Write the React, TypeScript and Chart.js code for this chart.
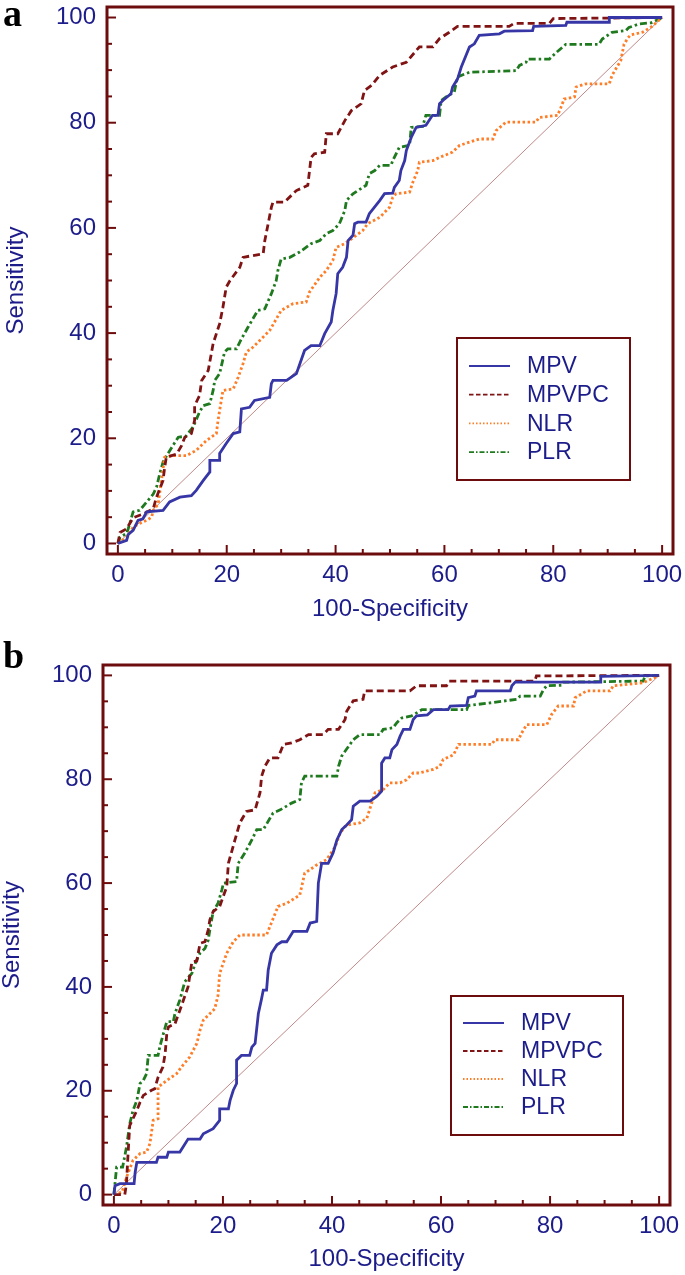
import React, { useEffect, useRef } from "react";
import { Chart, registerables } from "chart.js";

Chart.register(...registerables);

// ---------- shared axis / text ----------
const AXIS_MIN = -2;
const AXIS_MAX = 102;
const TICK_STEP = 5;
const LABEL_EVERY = 20;
const X_TITLE = "100-Specificity";
const Y_TITLE = "Sensitivity";
const SERIES = ["MPV", "MPVPC", "NLR", "PLR"];
const DIAG_X = [0, 100];
const DIAG_Y = [0, 100];

// ---------- panel a ----------
const A_MPV_X = [0, 1.6, 1.9, 2.8, 3.7, 4.6, 5.3, 8.3, 9.5, 11.4, 13.5, 14.4, 15.7, 16.9, 16.9, 18.7, 18.7, 19.9, 21.2, 22.4, 22.7, 24.2, 25.1, 27.9, 28.2, 28.5, 31, 32.8, 34.3, 35.5, 37.1, 38, 39.2, 39.5, 40.1, 40.4, 41.3, 42, 42.3, 43.2, 43.5, 44.1, 45.6, 46.2, 48.1, 49, 50.5, 50.8, 51.7, 52, 52.7, 53, 53.9, 54.8, 56.6, 57.8, 58.8, 59.1, 60, 61.2, 61.5, 62.4, 63.1, 64.6, 65.5, 66.4, 70.1, 71, 76.2, 76.4, 82.3, 82.5, 90.3, 90.3, 100];
const A_MPV_Y = [0, 0.6, 1.7, 2.5, 4.4, 4.7, 6, 6.3, 7.9, 8.8, 9.1, 10.1, 12, 13.6, 15.8, 15.8, 17.1, 19, 20.9, 21.2, 25.6, 25.9, 27.2, 27.8, 30.4, 31, 31, 32.3, 36.7, 37.6, 37.6, 39.9, 42.1, 44.3, 47.5, 51.3, 52.5, 54.4, 57.6, 58.6, 60.8, 61.1, 61.1, 62.7, 65.2, 66.5, 66.6, 67.7, 69, 70.9, 72.8, 74.7, 77.2, 79.1, 79.5, 81.4, 81.4, 83.6, 84.5, 85.5, 86.8, 88.3, 90.6, 94.4, 95, 96.6, 96.9, 97.4, 97.5, 98.3, 98.5, 99.1, 99.1, 100, 100];

const A_MPVPC_X = [0, 0.4, 1.6, 2.8, 4.6, 6.5, 7.1, 8.3, 8.6, 8.9, 10.8, 11.7, 12.3, 13.5, 14.1, 14.1, 15, 15.4, 16.6, 17.5, 18.7, 19.3, 19.9, 20.6, 22.4, 23, 26.7, 27, 28.2, 28.5, 30.6, 32.8, 34.9, 35.5, 36.1, 38, 38.3, 40.4, 41.7, 42.9, 44.7, 45.3, 46.6, 48.1, 50.5, 53, 54.8, 55.4, 57.9, 59.1, 60.9, 62.4, 71.9, 72.8, 79.3, 80, 100];
const A_MPVPC_Y = [0, 2.1, 2.8, 4.9, 5.6, 6.6, 8.8, 12, 14.5, 16.4, 17, 18.6, 20.2, 20.9, 23.4, 26.2, 28.1, 31, 32.9, 38, 41.8, 44.9, 48.7, 50, 52.5, 54.4, 55.1, 57.6, 63.9, 64.9, 64.9, 67.1, 68.1, 73.4, 74.1, 74.4, 77.9, 77.9, 80.4, 82.3, 83.6, 86.1, 87.1, 89, 90.6, 91.5, 93.7, 94.4, 94.4, 96, 97.2, 98.3, 98.3, 98.9, 98.9, 99.8, 100];

const A_NLR_X = [0, 1.6, 2.8, 4, 5.3, 6.2, 6.5, 7.4, 8, 8.6, 10.1, 12.6, 14.4, 16.3, 18.1, 18.4, 19, 19.3, 21.2, 22.1, 23, 23.6, 24.8, 27.9, 30, 32.2, 34.6, 35.2, 37.1, 38.3, 39.5, 40.1, 41.7, 45, 45.9, 48.1, 49.9, 50.5, 51.1, 53.6, 54.2, 55.1, 55.4, 57.9, 59.1, 61.5, 62.8, 64.6, 66.4, 68.9, 69.5, 71.3, 76.8, 77.4, 80.8, 81.4, 82, 83.9, 84.2, 86, 90.3, 90.8, 91.7, 92.4, 93, 93.7, 94.2, 96.4, 98, 100];
const A_NLR_Y = [0, 1.2, 3.1, 3.8, 4.4, 5, 6.3, 7.5, 12, 16.4, 16.7, 16.7, 17.7, 19.6, 20.9, 23.4, 27.2, 29.1, 29.4, 31.6, 34.2, 36.4, 37.3, 40.5, 44.3, 45.6, 45.9, 47.8, 50.6, 51.9, 53.8, 56.3, 57, 59.5, 60.8, 62, 63.9, 65.8, 66.5, 66.8, 68.7, 70.9, 72.5, 72.8, 73.4, 74.4, 75.7, 76.3, 76.9, 76.9, 78.5, 80.1, 80.1, 81, 81.4, 82.9, 84.5, 84.9, 86.8, 87.4, 87.4, 89, 90.6, 91.8, 94.9, 96.1, 96.7, 97.2, 98.2, 100];

const A_PLR_X = [0, 0.4, 1.6, 1.9, 2.8, 4, 5.3, 6.5, 7.1, 7.7, 8.3, 9.2, 10.1, 11.1, 12.5, 13.8, 15, 15.7, 16.9, 17.5, 17.8, 18.7, 19.6, 20.2, 21.8, 22.7, 23.9, 25.7, 27, 28.2, 29.1, 29.4, 30, 31.6, 33.4, 35.5, 37.1, 38.3, 39.5, 40.7, 41.7, 42, 43.2, 45.6, 46.2, 47.2, 48.1, 50.2, 50.5, 51.7, 53.6, 53.9, 56, 56.6, 59.1, 59.4, 60.3, 61.8, 62.4, 64.6, 73.2, 73.8, 75, 75.3, 79.3, 80.5, 82.3, 88.4, 89, 90.8, 93.3, 93.9, 95.8, 98, 100];
const A_PLR_Y = [0, 1.2, 1.9, 2.8, 6, 6.3, 7.9, 9.4, 10.7, 13.3, 15.5, 17.1, 18.6, 20.2, 20.4, 22.1, 25, 26.2, 26.6, 29.1, 31, 32.3, 36.4, 37, 37, 38.9, 41.1, 44.3, 44.6, 47.5, 50, 51.9, 54.1, 54.4, 55.4, 57, 57.6, 58.9, 59.5, 60.8, 63.3, 65.2, 66.5, 68.1, 70.3, 70.9, 71.9, 71.9, 72.8, 75.3, 75.7, 79.1, 79.3, 81.4, 81.4, 84.2, 84.9, 85.8, 88.7, 89.6, 89.9, 90.9, 91.5, 92.1, 92.1, 93.3, 94.9, 94.9, 95.9, 97.2, 97.5, 98.1, 98.8, 99, 100];

// ---------- panel b ----------
const B_MPV_X = [0, 0.2, 1.1, 3.7, 3.9, 4.2, 7.8, 8.1, 9.7, 10, 12.1, 13.6, 15.8, 16.4, 18.2, 19.4, 19.4, 21, 21.3, 21.9, 22.5, 22.5, 23.4, 24.9, 25.3, 25.9, 26.5, 27.1, 27.4, 28, 28.3, 28.9, 29.9, 30.8, 31.7, 32.9, 35.4, 36, 37.2, 37.5, 38.1, 39.3, 40.2, 40.9, 41.8, 42.7, 43.6, 43.9, 45.1, 47, 48.2, 49.1, 49.1, 49.7, 50.6, 51, 51.9, 52.5, 53.1, 54.3, 54.9, 55.5, 57.5, 58.6, 61.3, 61.7, 64.7, 65, 66.2, 66.5, 72.7, 73, 73.6, 89.2, 89.3, 100];
const B_MPV_Y = [0, 1.7, 2.1, 2.1, 4.3, 6.2, 6.2, 7.2, 7.2, 8.2, 8.2, 10.7, 10.7, 11.7, 12.7, 14.3, 16.5, 16.5, 18.1, 20.1, 21.4, 25.9, 26.8, 26.8, 28.4, 29.1, 34.9, 37.8, 39.4, 39.4, 43.2, 46.5, 48.1, 48.7, 48.7, 50.7, 50.7, 52.3, 52.6, 60, 63.8, 63.8, 65.8, 68.3, 70.3, 71.2, 72.2, 74.8, 75.8, 75.8, 76.7, 77.7, 83.1, 84.1, 84.1, 85.7, 86.7, 88.3, 89.6, 89.6, 91.5, 92.2, 92.4, 93.4, 93.4, 94.1, 94.2, 95.7, 96, 97, 97, 98, 98.7, 98.7, 99.8, 100];

const B_MPVPC_X = [0, 2, 2.3, 2.6, 2.9, 4.2, 4.8, 5.4, 6.9, 7.5, 8.1, 9, 9.4, 9.7, 10, 11.2, 12.1, 13.6, 14.3, 15.2, 15.8, 16.7, 17.3, 17.6, 18.2, 19.4, 20.7, 21, 22.2, 23.1, 24.3, 25.9, 26.8, 27.1, 27.7, 28.6, 30.1, 31.1, 32.6, 34.1, 35.7, 38.4, 39.3, 41.2, 42.4, 42.7, 43.9, 45.7, 46, 54.3, 55.5, 61, 61.5, 77.2, 77.5, 100];
const B_MPVPC_Y = [0, 0, 2.1, 7.9, 13.3, 16.2, 17.8, 19.1, 20.1, 20.4, 22.6, 24.6, 27.2, 31, 32.3, 32.9, 35.5, 40, 44.8, 45, 48.4, 48.7, 51, 52.9, 54.5, 55.5, 59.3, 63.8, 68.3, 71.6, 73.8, 74.1, 77.4, 80.6, 82.5, 84.1, 84.1, 86.7, 87, 87.6, 88.6, 88.6, 89.6, 89.6, 91.5, 93.1, 95.1, 95.4, 97, 97, 98, 98, 98.9, 98.9, 99.9, 100];

const B_NLR_X = [0, 1.5, 2.3, 3.5, 4.8, 6, 6.6, 6.9, 7.2, 8.1, 8.1, 9.7, 11.5, 12.4, 13.9, 15.2, 15.8, 16.4, 18.5, 19.1, 19.4, 20.7, 21.9, 23.1, 28, 28.6, 30.1, 31.7, 34.1, 35, 37.2, 39, 40.6, 41.5, 42.4, 43, 45.1, 46.4, 47.9, 49.4, 50.6, 52.5, 53.7, 54.9, 56, 58.6, 59.8, 60.4, 62.3, 63.2, 69.3, 69.9, 74.2, 74.8, 75.7, 79.4, 80.3, 81.5, 84.3, 84.6, 86.7, 91, 91.6, 97.1, 100];
const B_NLR_Y = [0, 0.5, 3.3, 6.6, 7.9, 8.2, 9.8, 12, 14.3, 14.6, 20.7, 22, 23.3, 24.6, 26.5, 29.1, 31.7, 33.6, 35.8, 38.4, 42.6, 46.5, 48.7, 50, 50, 51.6, 55.5, 56.1, 57.7, 61.9, 63.5, 64.5, 67, 69.6, 70.9, 71.2, 71.6, 72.5, 77.4, 78, 79.3, 79.3, 79.9, 81.2, 81.2, 81.9, 82.5, 83.8, 84.7, 86.7, 86.7, 87.6, 87.6, 88.9, 90.5, 90.5, 92.5, 94.1, 94.1, 95.7, 97, 97, 98, 98.6, 100];

const B_PLR_X = [0, 0.5, 1.6, 2.3, 2.9, 3.5, 4.2, 4.8, 5.4, 6, 6.3, 8.1, 8.4, 9, 9.7, 10.9, 11.2, 12.1, 13, 14.3, 14.9, 15.8, 16.7, 17.3, 17.6, 18.2, 19.1, 19.8, 20.1, 22.5, 22.8, 24, 25.3, 26.2, 27.4, 29.2, 30.5, 32.6, 34.1, 34.4, 35, 40.9, 41.2, 41.8, 43.9, 45.1, 48.8, 49.4, 51.2, 51.9, 52.8, 54.6, 56.5, 64.7, 65, 69, 73.9, 74.5, 78.2, 78.8, 79.4, 82.1, 82.4, 97.1, 97.4, 100];
const B_PLR_Y = [0, 5.3, 5.3, 9.1, 13.6, 16.2, 18.1, 21.4, 22, 23.3, 26.8, 26.8, 28.4, 30.7, 33.3, 33.3, 34.9, 37.5, 41, 42.6, 44.5, 46.5, 47.4, 49, 51, 54.5, 56.1, 58.7, 60, 60.3, 63.8, 65.8, 68.3, 70.3, 70.3, 73.5, 74.1, 75.4, 76.1, 79.3, 80.6, 80.6, 82.5, 84.5, 87.6, 88.6, 88.6, 89.6, 89.9, 90.9, 91.8, 92.2, 93.4, 93.4, 94.2, 94.7, 95.4, 96, 96, 97.3, 98, 98.1, 98.7, 98.9, 99.9, 100];

// ---------- styles ----------
const FONT = "'Liberation Sans', Arial, sans-serif";
const TEXT_COLOR = "#1c1c8a";
const FRAME_COLOR = "#6d0c0c";
const DIAG_COLOR = "#c08888";
const SERIES_STYLE: Record<string, { color: string; dash: number[]; legendDash: number[] }> = {
  MPV: { color: "#3636a6", dash: [], legendDash: [] },
  MPVPC: { color: "#801414", dash: [7, 4], legendDash: [4.5, 2.5] },
  NLR: { color: "#ff7d26", dash: [2.5, 2.5], legendDash: [1.5, 2] },
  PLR: { color: "#1f7a1f", dash: [7, 3, 2.5, 3], legendDash: [5, 2, 1.5, 2] },
};

const W = 685;
const TICK_FONT_SIZE = 24;
const LEGEND_FONT_SIZE = 23;

function pts(xs: number[], ys: number[]) {
  return xs.map((x, i) => ({ x, y: ys[i] }));
}

const decorPlugin = {
  id: "rocDecor",
  afterDraw(chart: any, _args: any, opts: any) {
    const { ctx, chartArea: a, scales } = chart;
    const xs = scales.x;
    const ys = scales.y;
    ctx.save();
    // inward ticks
    ctx.strokeStyle = FRAME_COLOR;
    ctx.lineWidth = 2;
    ctx.setLineDash([]);
    xs.ticks.forEach((t: any) => {
      const p = xs.getPixelForValue(t.value);
      const len = t.value % LABEL_EVERY === 0 ? 9 : 5;
      ctx.beginPath();
      ctx.moveTo(p, a.bottom);
      ctx.lineTo(p, a.bottom - len);
      ctx.stroke();
    });
    ys.ticks.forEach((t: any) => {
      const p = ys.getPixelForValue(t.value);
      const len = t.value % LABEL_EVERY === 0 ? 9 : 5;
      ctx.beginPath();
      ctx.moveTo(a.left, p);
      ctx.lineTo(a.left + len, p);
      ctx.stroke();
    });
    // frame
    ctx.lineWidth = 3;
    ctx.strokeRect(a.left, a.top, a.right - a.left, a.bottom - a.top);

    // legend box
    const L = opts.box;
    const bx = a.left + L.dx;
    const by = a.top + L.dy;
    ctx.fillStyle = "#ffffff";
    ctx.fillRect(bx, by, L.w, L.h);
    ctx.lineWidth = 2;
    ctx.strokeStyle = FRAME_COLOR;
    ctx.strokeRect(bx, by, L.w, L.h);
    ctx.font = `${LEGEND_FONT_SIZE}px ${FONT}`;
    ctx.textBaseline = "middle";
    ctx.textAlign = "left";
    SERIES.forEach((name, i) => {
      const st = SERIES_STYLE[name];
      const yy = by + L.row0 + i * L.rowStep;
      ctx.strokeStyle = st.color;
      ctx.lineWidth = 1.8;
      ctx.setLineDash(st.legendDash);
      ctx.beginPath();
      ctx.moveTo(bx + 12, yy);
      ctx.lineTo(bx + 53, yy);
      ctx.stroke();
      ctx.setLineDash([]);
      ctx.fillStyle = TEXT_COLOR;
      ctx.fillText(name, bx + 70, yy + 1);
    });
    ctx.restore();
  },
};

type PanelProps = {
  letter: string;
  top: number;
  height: number;
  area: { left: number; right: number; top: number; bottom: number };
  box: { dx: number; dy: number; w: number; h: number; row0: number; rowStep: number };
  xTitlePad: number;
  yTitlePad: number;
  series: { x: number[]; y: number[] }[];
  letterTop: number;
};

function Panel(props: PanelProps) {
  const ref = useRef<HTMLCanvasElement | null>(null);
  useEffect(() => {
    const { area, height, box, xTitlePad, yTitlePad, series } = props;
    const datasets: any[] = SERIES.map((name, i) => {
      const st = SERIES_STYLE[name];
      return {
        label: name,
        data: pts(series[i].x, series[i].y),
        borderColor: st.color,
        borderDash: st.dash,
        borderWidth: 2.8,
        pointRadius: 0,
        tension: 0,
        fill: false,
      };
    });
    datasets.push({
      label: "ref",
      data: pts(DIAG_X, DIAG_Y),
      borderColor: DIAG_COLOR,
      borderWidth: 1,
      pointRadius: 0,
      fill: false,
    });
    const tickFont = { family: FONT, size: TICK_FONT_SIZE };
    const chart = new Chart(ref.current as HTMLCanvasElement, {
      type: "line",
      data: { datasets },
      options: {
        animation: false,
        responsive: false,
        maintainAspectRatio: false,
        layout: { padding: { left: 0, top: area.top, right: W - area.right, bottom: 0 } },
        plugins: {
          legend: { display: false },
          tooltip: { enabled: false },
          rocDecor: { box },
        } as any,
        scales: {
          x: {
            type: "linear",
            min: AXIS_MIN,
            max: AXIS_MAX,
            grid: { display: false, drawTicks: false, tickLength: 0 },
            border: { display: false },
            ticks: {
              stepSize: TICK_STEP,
              includeBounds: false,
              autoSkip: false,
              maxRotation: 0,
              minRotation: 0,
              padding: 7,
              color: TEXT_COLOR,
              font: tickFont,
              callback: (v: any) => (Number(v) % LABEL_EVERY === 0 ? String(v) : ""),
            },
            title: {
              display: true,
              text: X_TITLE,
              color: TEXT_COLOR,
              font: tickFont,
              padding: { top: 0, bottom: xTitlePad },
            },
            afterFit: (s: any) => {
              s.height = height - area.bottom;
              s.paddingLeft = 0;
              s.paddingRight = 0;
              s.paddingTop = 0;
              s.paddingBottom = 0;
            },
          },
          y: {
            type: "linear",
            min: AXIS_MIN,
            max: AXIS_MAX,
            grid: { display: false, drawTicks: false, tickLength: 0 },
            border: { display: false },
            ticks: {
              stepSize: TICK_STEP,
              includeBounds: false,
              autoSkip: false,
              padding: 11,
              color: TEXT_COLOR,
              font: tickFont,
              callback: (v: any) => (Number(v) % LABEL_EVERY === 0 ? String(v) : ""),
            },
            title: {
              display: true,
              text: Y_TITLE,
              color: TEXT_COLOR,
              font: tickFont,
              padding: { top: yTitlePad, bottom: 0 },
            },
            afterFit: (s: any) => {
              s.width = area.left;
              s.paddingLeft = 0;
              s.paddingRight = 0;
              s.paddingTop = 0;
              s.paddingBottom = 0;
            },
          },
        } as any,
      },
      plugins: [decorPlugin],
    } as any);
    return () => chart.destroy();
  }, []);
  return (
    <div style={{ position: "absolute", left: 0, top: props.top, width: W, height: props.height }}>
      <canvas ref={ref} width={W} height={props.height} style={{ width: W, height: props.height, display: "block" }} />
      <div
        style={{
          position: "absolute",
          left: 3,
          top: props.letterTop,
          fontFamily: "'Liberation Serif', 'Times New Roman', serif",
          fontWeight: "bold",
          fontSize: 38,
          lineHeight: "38px",
          color: "#000",
        }}
      >
        {props.letter}
      </div>
    </div>
  );
}

export default function App() {
  useEffect(() => {
    document.body.style.margin = "0";
    document.body.style.overflow = "hidden";
    document.body.style.background = "#fff";
  }, []);
  return (
    <div style={{ position: "absolute", left: 0, top: 0, width: W, height: 1275, background: "#fff" }}>
      <Panel
        letter="a"
        top={0}
        height={629}
        area={{ left: 107, right: 673, top: 7, bottom: 554 }}
        box={{ dx: 350, dy: 331, w: 173, h: 142, row0: 28, rowStep: 28.7 }}
        xTitlePad={5.6}
        yTitlePad={2}
        letterTop={-6}
        series={[
          { x: A_MPV_X, y: A_MPV_Y },
          { x: A_MPVPC_X, y: A_MPVPC_Y },
          { x: A_NLR_X, y: A_NLR_Y },
          { x: A_PLR_X, y: A_PLR_Y },
        ]}
      />
      <Panel
        letter="b"
        top={640}
        height={635}
        area={{ left: 103, right: 670, top: 25, bottom: 565 }}
        box={{ dx: 348, dy: 331, w: 172, h: 139, row0: 27, rowStep: 28 }}
        xTitlePad={1.6}
        yTitlePad={-2}
        letterTop={-4}
        series={[
          { x: B_MPV_X, y: B_MPV_Y },
          { x: B_MPVPC_X, y: B_MPVPC_Y },
          { x: B_NLR_X, y: B_NLR_Y },
          { x: B_PLR_X, y: B_PLR_Y },
        ]}
      />
    </div>
  );
}
